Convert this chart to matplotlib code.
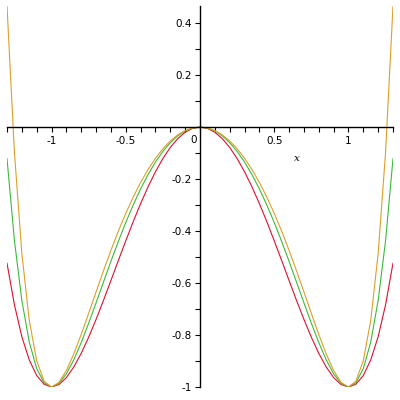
import matplotlib
matplotlib.use("Agg")
import matplotlib.pyplot as plt
from matplotlib.ticker import MultipleLocator

plt.rcParams['axes.unicode_minus'] = False

# sample x positions (right half; curves are symmetric)
x_half = [0.0, 0.05, 0.1, 0.15, 0.2, 0.25, 0.3, 0.35, 0.4, 0.45, 0.5, 0.55, 0.6,
          0.65, 0.7, 0.75, 0.8, 0.85, 0.9, 0.95, 1.0, 1.05, 1.1, 1.15, 1.2, 1.25, 1.3]

red_half = [0.0, -0.00499, -0.0199, -0.04449, -0.0784, -0.12109, -0.1719, -0.22999,
            -0.2944, -0.36399, -0.4375, -0.51349, -0.5904, -0.66649, -0.7399,
            -0.80859, -0.8704, -0.92299, -0.9639, -0.99049, -1.0, -0.98949,
            -0.9559, -0.89599, -0.8064, -0.68359, -0.5239]

green_half = [0.0, -0.00375, -0.0150, -0.03374, -0.0600, -0.09363, -0.1346, -0.18283,
              -0.2380, -0.29960, -0.3672, -0.43991, -0.5167, -0.59604, -0.6762,
              -0.75476, -0.8289, -0.89518, -0.9493, -0.98620, -1.0, -0.98370,
              -0.9292, -0.82722, -0.6670, -0.43640, -0.1216]

orange_half = [0.0, -0.00333, -0.0133, -0.03000, -0.0533, -0.08333, -0.1200, -0.16326,
               -0.2131, -0.26944, -0.3320, -0.40054, -0.4744, -0.55271, -0.6341,
               -0.71663, -0.7974, -0.87250, -0.9365, -0.98219, -1.0, -0.97751,
               -0.8988, -0.74366, -0.4867, -0.09651, 0.4658]

x_ticks = [-1, -0.5, 0.5, 1]
x_ticklabels = ["-1", "-0.5", "0.5", "1"]
y_ticks = [-1, -0.8, -0.6, -0.4, -0.2, 0.2, 0.4]
y_ticklabels = ["-1", "-0.8", "-0.6", "-0.4", "-0.2", "0.2", "0.4"]

def mirror(xs, ys):
    xf = [-v for v in xs[::-1]] + xs[1:]
    yf = ys[::-1] + ys[1:]
    return xf, yf

fig = plt.figure(figsize=(4, 4), dpi=100)
ax = fig.add_axes([0.0175, 0.0325, 0.965, 0.9525])

colors = ['#dc1030', '#3cba3c', '#dca028']
for ys, c in [(red_half, colors[0]), (green_half, colors[1]), (orange_half, colors[2])]:
    xf, yf = mirror(x_half, ys)
    ax.plot(xf, yf, color=c, lw=0.8, clip_on=True)

ax.set_xlim(-1.3, 1.3)
ax.set_ylim(-1.0, 0.4658)

for s in ['top', 'right']:
    ax.spines[s].set_visible(False)
ax.spines['left'].set_position(('data', 0))
ax.spines['bottom'].set_position(('data', 0))
ax.spines['left'].set_linewidth(1.0)
ax.spines['bottom'].set_linewidth(1.0)

ax.set_xticks(x_ticks)
ax.set_xticklabels(x_ticklabels)
ax.set_yticks(y_ticks)
ax.set_yticklabels(y_ticklabels)
ax.xaxis.set_minor_locator(MultipleLocator(0.1))
ax.yaxis.set_minor_locator(MultipleLocator(0.1))
ax.tick_params(which='both', direction='out', length=3.6, width=0.8, labelsize=7.5,
               colors='black')
ax.tick_params(axis='x', pad=3)
ax.tick_params(axis='y', pad=2)

ax.text(-0.02, -0.05, "0", fontsize=7.5, ha='right', va='center')
ax.text(0.65, -0.12, "x", fontsize=7.5, style='italic', family='DejaVu Serif',
        ha='center', va='center')

fig.savefig("out.png", dpi=100)
